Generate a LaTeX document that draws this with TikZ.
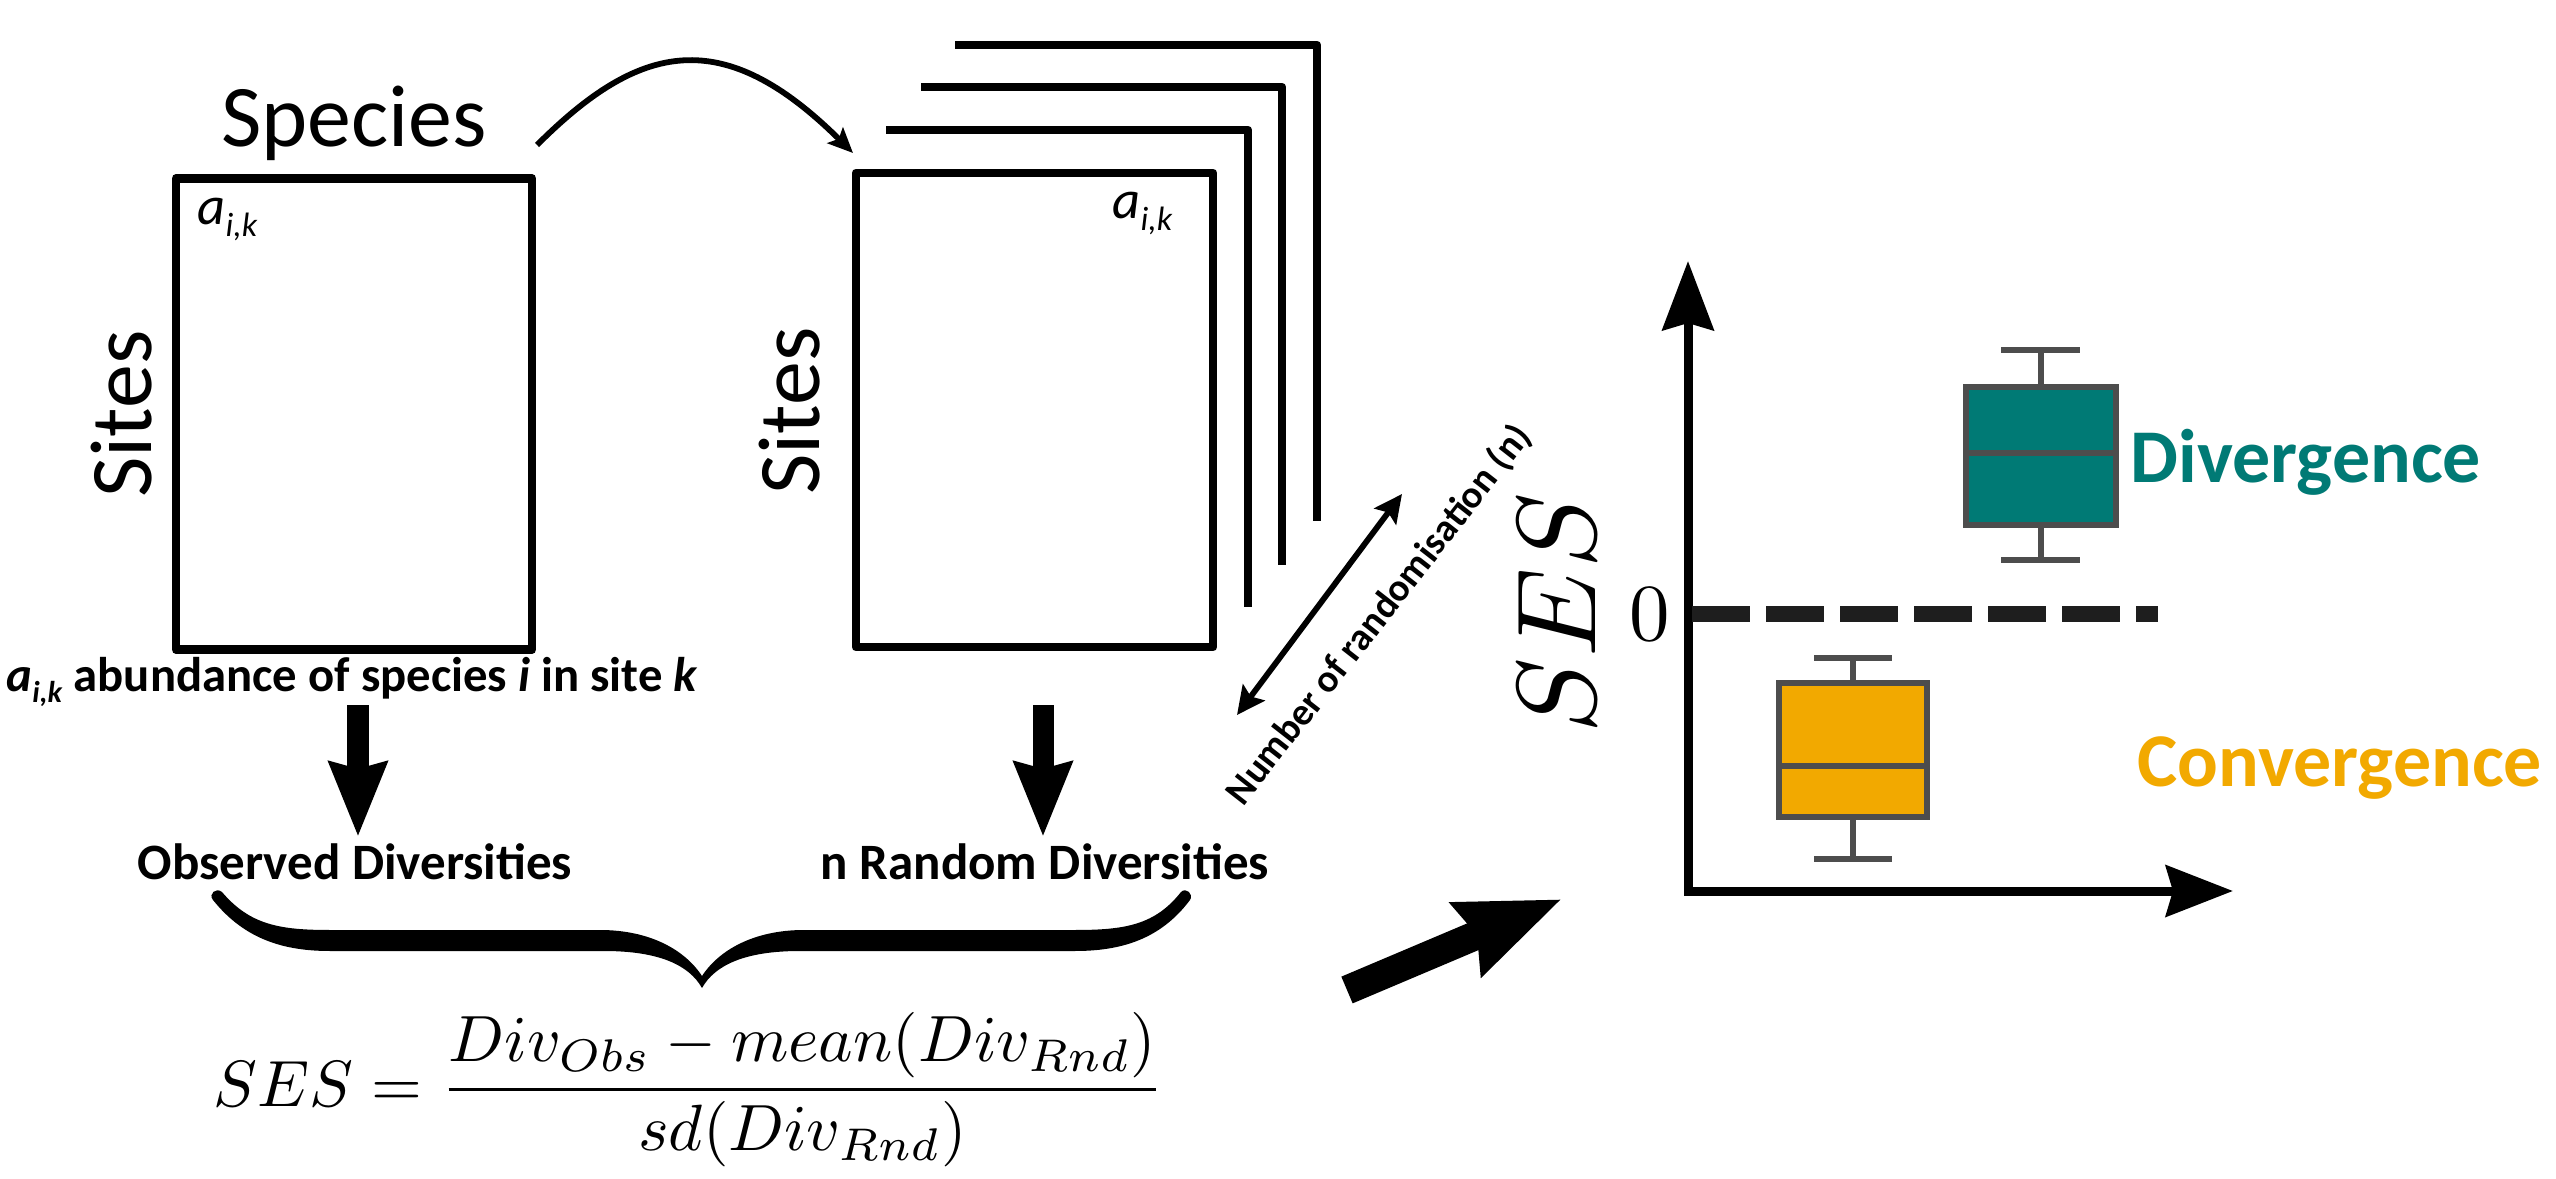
\documentclass[tikz,border=0pt]{standalone}
\usepackage[no-math]{fontspec}
\setmainfont{Carlito}
\usepackage{graphicx}
\usetikzlibrary{arrows.meta}
\definecolor{tealc}{RGB}{0,122,117}
\definecolor{orangec}{RGB}{242,169,0}
\definecolor{boxgray}{RGB}{77,77,77}
\definecolor{dashc}{RGB}{30,30,30}
\newcommand{\aik}{\textit{a}\raisebox{-0.22em}{\scalebox{0.62}{\textit{i,k}}}}
\begin{document}
\begin{tikzpicture}[x=0.01cm,y=-0.01cm,
  matbox/.style={draw, line width=0.085cm, line join=round, inner sep=0pt},
  stackline/.style={line width=0.085cm, line join=round},
  biglabel/.style={font=\fontsize{25pt}{30pt}\selectfont, inner sep=0pt},
  cell/.style={font=\fontsize{15.5pt}{18pt}\selectfont, inner sep=0pt},
  midlabel/.style={font=\fontsize{14.5pt}{17pt}\selectfont\bfseries, inner sep=0pt},
  downarrow/.style={line width=0.21cm, -{Stealth[length=0.74cm,width=0.56cm,inset=0.06cm]}},
  curvarrow/.style={line width=0.058cm, -{Stealth[length=0.25cm,width=0.22cm,inset=0.05cm]}},
  dblarrow/.style={line width=0.058cm, {Stealth[length=0.28cm,width=0.27cm,inset=0.05cm]}-{Stealth[length=0.28cm,width=0.27cm,inset=0.05cm]}},
  bigarrow/.style={line width=0.29cm, -{Stealth[length=1.02cm,width=0.76cm,inset=0.1cm]}},
  axis/.style={line width=0.09cm, {Stealth[length=0.69cm,width=0.51cm,inset=0.07cm]}-{Stealth[length=0.67cm,width=0.51cm,inset=0.07cm]}},
  bp/.style={draw=boxgray, line width=0.055cm, inner sep=0pt},
  whisk/.style={draw=boxgray, line width=0.055cm},
  catlabel/.style={font=\fontsize{21.6pt}{26pt}\selectfont\bfseries, inner sep=0pt}]
\fill[white] (0,0) rectangle (2556,1179);
\useasboundingbox (0,0) rectangle (2556,1179);

% observed matrix
\node[matbox, minimum width=3.56cm, minimum height=4.71cm] (lbox) at (354,414) {};
\node[biglabel, anchor=base] (species) at (354,147) {Species};
\node[biglabel, rotate=90] (sites1) at (122,414) {Sites};
\node[cell, anchor=base west] (a1) at (197,225) {\aik};

% randomised matrices
\draw[stackline] (955,45) -- (1317,45) -- (1317,521);
\draw[stackline] (921,87) -- (1282,87) -- (1282,565);
\draw[stackline] (886,130) -- (1248,130) -- (1248,607);
\node[matbox, minimum width=3.57cm, minimum height=4.74cm] (mbox) at (1034.5,410) {};
\node[biglabel, rotate=90] (sites2) at (790,411) {Sites};
\node[cell, anchor=base west] (a2) at (1112,219) {\aik};

% curved arrow
\coordinate (cs) at (537,145);
\coordinate (ce) at (853,153);
\draw[curvarrow] (cs) .. controls (640,42) and (723,24) .. (ce);

% number of randomisation
\coordinate (ra) at (1237,715);
\coordinate (rb) at (1402,494);
\draw[dblarrow] (ra) -- (rb);
\node[rotate=52, font=\fontsize{11pt}{13pt}\selectfont\bfseries, inner sep=0pt] (nrand) at (1379,615) {Number of randomisation (n)};

% abundance label
\node[font=\fontsize{13.85pt}{16pt}\selectfont\bfseries, inner sep=0pt, anchor=base west] (abund) at (6,692) {\aik{} abundance of species \textit{i} in site \textit{k}};

% down arrows
\coordinate (d1s) at (358,705);
\coordinate (d1e) at (358,837);
\coordinate (d2s) at (1043,705);
\coordinate (d2e) at (1043,837);
\draw[downarrow] (d1s) -- (d1e);
\draw[downarrow] (d2s) -- (d2e);
\node[midlabel, anchor=base] (obs) at (355,879) {Observed Diversities};
\node[midlabel, anchor=base] (rnd) at (1045,879) {n Random Diversities};

% brace
\fill[black] (222,892)
  .. controls (250,925) and (280,930) .. (330,930)
  -- (600,930)
  .. controls (650,930) and (685,950) .. (702,976)
  .. controls (719,950) and (754,930) .. (804,930)
  -- (1075,930)
  .. controls (1125,930) and (1155,925) .. (1181,892)
  .. controls (1186,887) and (1194,894) .. (1190,900)
  .. controls (1160,940) and (1120,951) .. (1075,951)
  -- (800,951)
  .. controls (745,951) and (715,965) .. (702,988)
  .. controls (689,965) and (659,951) .. (604,951)
  -- (330,951)
  .. controls (285,951) and (245,940) .. (213,900)
  .. controls (208,894) and (216,887) .. (222,892) -- cycle;

% formula
\node[inner sep=0pt] (formula) at (689,1090) {\scalebox{1.86}{$\displaystyle SES=\frac{Div_{Obs}-mean(Div_{Rnd})}{sd(Div_{Rnd})}$}};

% big arrow
\coordinate (bas) at (1347,990);
\coordinate (bae) at (1562,899);
\draw[bigarrow] (bas) -- (bae);

% axes
\coordinate (ytip) at (1688,261);
\coordinate (orig) at (1688,891);
\coordinate (xtip) at (2233,891);
\draw[axis] (ytip) -- (orig) -- (xtip);
\node[rotate=90, inner sep=0pt] (seslab) at (1557,613) {\scalebox{3.2}{$SES$}};
\node[inner sep=0pt] (zero) at (1650,614) {\scalebox{2.3}{$0$}};
\coordinate (z0) at (1692,614);
\coordinate (z1) at (2158,614);
\draw[dashc, line width=0.15cm, dash pattern=on 0.58cm off 0.16cm] (z0) -- (z1);

% divergence box plot
\draw[whisk] (2041,350) -- (2041,387);
\draw[whisk] (2041,525) -- (2041,560);
\draw[whisk] (2001,350) -- (2080,350);
\draw[whisk] (2001,560) -- (2080,560);
\node[bp, fill=tealc, minimum width=1.50cm, minimum height=1.38cm] (tbox) at (2041,456) {};
\draw[whisk] (1966,453) -- (2116,453);
\node[catlabel, text=tealc, anchor=base west] (div) at (2130,482) {Divergence};

% convergence box plot
\draw[whisk] (1853,658) -- (1853,683);
\draw[whisk] (1853,817) -- (1853,859);
\draw[whisk] (1814,658) -- (1892,658);
\draw[whisk] (1814,859) -- (1892,859);
\node[bp, fill=orangec, minimum width=1.48cm, minimum height=1.34cm] (obox) at (1853,750) {};
\draw[whisk] (1779,766) -- (1927,766);
\node[catlabel, text=orangec, anchor=base west] (conv) at (2137,786) {Convergence};
\end{tikzpicture}
\end{document}
